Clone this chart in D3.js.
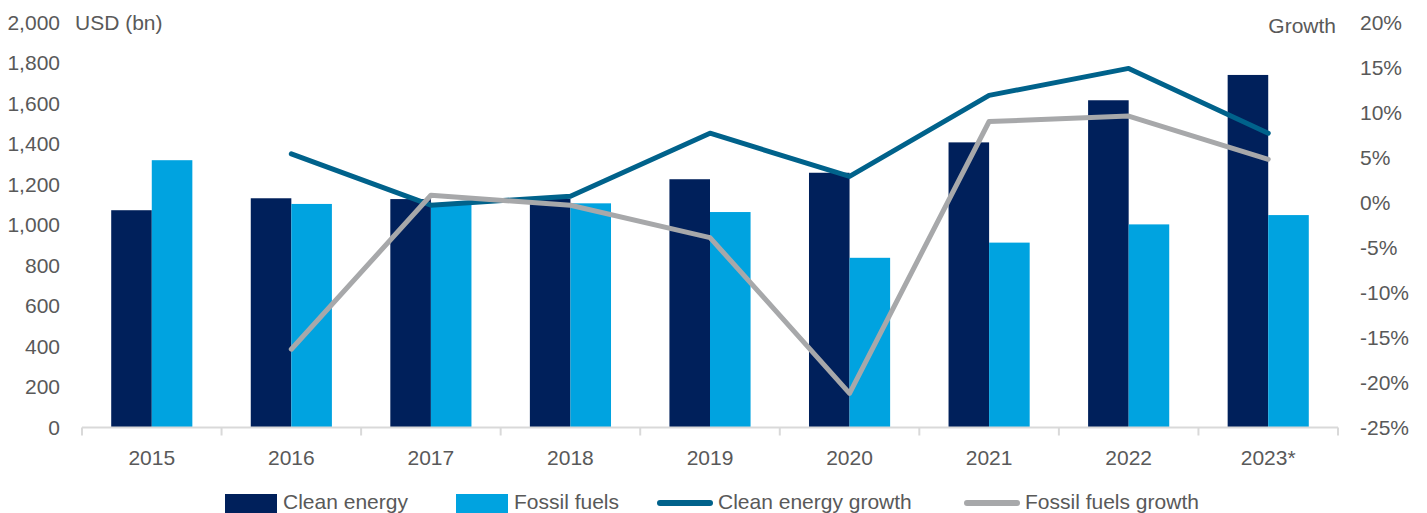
<!DOCTYPE html>
<html>
<head>
<meta charset="utf-8">
<script src="https://cdn.jsdelivr.net/npm/d3@7"></script>
<style>
  html, body { margin: 0; padding: 0; background: #fff; }
  svg { display: block; }
  text { font-family: "Liberation Sans", Arial, sans-serif; fill: #595959; }
</style>
</head>
<body>
<svg id="chart" width="1427" height="513"></svg>
<script>
// Investment (USD bn) and year-on-year growth
const years = ["2015", "2016", "2017", "2018", "2019", "2020", "2021", "2022", "2023*"];
const cleanEnergy = [1073, 1132, 1128, 1130, 1226, 1258, 1408, 1616, 1741];
const fossilFuels = [1320, 1104, 1106, 1107, 1064, 838, 913, 1003, 1049];
// growth in %, first year has no prior value
const cleanGrowth = [null, 5.4, -0.3, 0.7, 7.7, 2.9, 11.9, 14.9, 7.7];
const fossilGrowth = [null, -16.3, 0.8, -0.3, -3.9, -21.2, 9.0, 9.6, 4.8];
const leftTicks = [0, 200, 400, 600, 800, 1000, 1200, 1400, 1600, 1800, 2000];
const rightTicks = [-25, -20, -15, -10, -5, 0, 5, 10, 15, 20];

const C_CLEAN = "#00205B";
const C_FOSSIL = "#00A3E0";
const C_CLEAN_G = "#00628B";
const C_FOSSIL_G = "#A7A8AA";

const svg = d3.select("#chart");
const plotL = 82, plotR = 1338, plotT = 22.5, plotB = 427.5;

const x = d3.scaleBand().domain(years).range([plotL, plotR]).padding(0);
const xSub = d3.scaleBand().domain(["clean", "fossil"])
  .range([0, x.bandwidth()]).paddingInner(0).paddingOuter(0.72);
const yL = d3.scaleLinear().domain([0, 2000]).range([plotB, plotT]);
const yR = d3.scaleLinear().domain([-25, 20]).range([plotB, plotT]);

// Bars
const rows = years.map((yr, i) => ({ yr, clean: cleanEnergy[i], fossil: fossilFuels[i] }));
const g = svg.append("g");
rows.forEach(r => {
  g.append("rect")
    .attr("x", x(r.yr) + xSub("clean"))
    .attr("y", yL(r.clean))
    .attr("width", xSub.bandwidth())
    .attr("height", yL(0) - yL(r.clean))
    .attr("fill", C_CLEAN);
  g.append("rect")
    .attr("x", x(r.yr) + xSub("fossil"))
    .attr("y", yL(r.fossil))
    .attr("width", xSub.bandwidth())
    .attr("height", yL(0) - yL(r.fossil))
    .attr("fill", C_FOSSIL);
});

// Category axis with tick marks between categories
const axisG = svg.append("g");
axisG.append("line")
  .attr("x1", plotL).attr("x2", plotR)
  .attr("y1", plotB).attr("y2", plotB)
  .attr("stroke", "#D9D9D9").attr("stroke-width", 2);
const bounds = years.map(d => x(d)).concat([plotR]);
axisG.selectAll("line.tick").data(bounds).enter().append("line")
  .attr("class", "tick")
  .attr("x1", d => d).attr("x2", d => d)
  .attr("y1", plotB).attr("y2", plotB + 8)
  .attr("stroke", "#D9D9D9").attr("stroke-width", 2);
axisG.selectAll("text.cat").data(years).enter().append("text")
  .attr("class", "cat")
  .attr("x", d => x(d) + x.bandwidth() / 2)
  .attr("y", 458)
  .attr("dy", "0.35em")
  .attr("text-anchor", "middle")
  .attr("font-size", 21)
  .text(d => d);

// Left value axis labels
const fmt = d3.format(",");
svg.append("g").selectAll("text").data(leftTicks).enter().append("text")
  .attr("x", 60)
  .attr("y", d => yL(d))
  .attr("dy", "0.35em")
  .attr("text-anchor", "end")
  .attr("font-size", 21)
  .text(d => fmt(d));
svg.append("text").attr("x", 75).attr("y", yL(2000)).attr("dy", "0.35em")
  .attr("font-size", 21).text("USD (bn)");

// Right growth axis labels
svg.append("g").selectAll("text").data(rightTicks).enter().append("text")
  .attr("x", 1360)
  .attr("y", d => yR(d))
  .attr("dy", "0.35em")
  .attr("text-anchor", "start")
  .attr("font-size", 21)
  .text(d => d + "%");
svg.append("text").attr("x", 1336).attr("y", yR(20) + 3).attr("dy", "0.35em")
  .attr("text-anchor", "end")
  .attr("font-size", 21).text("Growth");

// Growth lines
const line = d3.line()
  .defined(d => d.v !== null)
  .x(d => x(d.yr) + x.bandwidth() / 2)
  .y(d => yR(d.v));
svg.append("path")
  .datum(years.map((yr, i) => ({ yr, v: cleanGrowth[i] })))
  .attr("d", line)
  .attr("fill", "none")
  .attr("stroke", C_CLEAN_G)
  .attr("stroke-width", 5)
  .attr("stroke-linecap", "round")
  .attr("stroke-linejoin", "round");
svg.append("path")
  .datum(years.map((yr, i) => ({ yr, v: fossilGrowth[i] })))
  .attr("d", line)
  .attr("fill", "none")
  .attr("stroke", C_FOSSIL_G)
  .attr("stroke-width", 5)
  .attr("stroke-linecap", "round")
  .attr("stroke-linejoin", "round");

// Legend
const legendY = 502;
const legend = [
  { label: "Clean energy", type: "rect", color: C_CLEAN, x: 225 },
  { label: "Fossil fuels", type: "rect", color: C_FOSSIL, x: 456 },
  { label: "Clean energy growth", type: "line", color: C_CLEAN_G, x: 660 },
  { label: "Fossil fuels growth", type: "line", color: C_FOSSIL_G, x: 967 }
];
const lg = svg.append("g");
legend.forEach(item => {
  if (item.type === "rect") {
    lg.append("rect").attr("x", item.x).attr("y", legendY - 8)
      .attr("width", 52).attr("height", 20).attr("fill", item.color);
  } else {
    lg.append("line").attr("x1", item.x).attr("x2", item.x + 50)
      .attr("y1", legendY + 1).attr("y2", legendY + 1)
      .attr("stroke", item.color).attr("stroke-width", 6)
      .attr("stroke-linecap", "round");
  }
  lg.append("text").attr("x", item.x + 58).attr("y", legendY)
    .attr("dy", "0.35em").attr("font-size", 21).text(item.label);
});
</script>
</body>
</html>
